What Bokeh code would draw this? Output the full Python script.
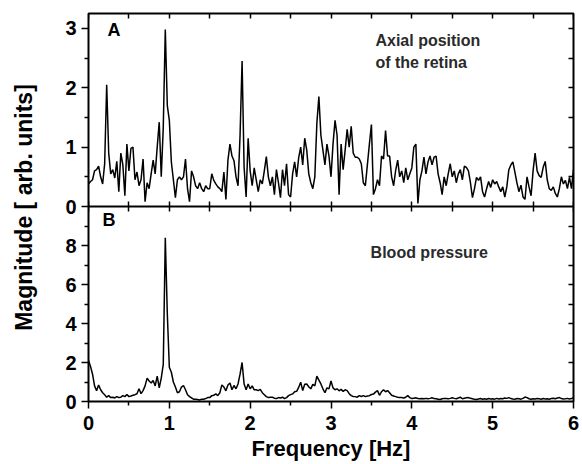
from bokeh.plotting import figure
from bokeh.models import Range1d, LinearAxis, FixedTicker, Span, Label
from bokeh.embed import file_html
from bokeh.resources import INLINE

# ---------------- data ----------------
freq_step = 0.025  # Hz between samples

retina_vals = [
    0.38, 0.42, 0.45, 0.6, 0.62, 0.68, 0.5, 0.38, 0.72, 2.05,
    0.9, 0.55, 0.62, 0.48, 0.76, 0.25, 0.9, 0.7, 0.18, 1.05,
    0.6, 0.98, 1.0, 0.45, 0.58, 0.35, 0.45, 0.8, 0.08, 0.4,
    0.3, 0.55, 0.78, 0.55, 1.0, 1.42, 0.5, 1.33, 2.98, 1.7,
    1.45, 0.75, 0.45, 0.15, 0.45, 0.5, 0.45, 0.5, 0.8, 0.3,
    0.08, 0.6, 0.5, 0.35, 0.3, 0.4, 0.3, 0.25, 0.35, 0.3,
    0.3, 0.55, 0.44, 0.38, 0.33, 0.3, 0.25, 0.58, 0.12, 0.78,
    1.05, 0.85, 0.77, 0.5, 0.35, 1.2, 2.45, 0.66, 0.16, 1.15,
    0.6, 0.35, 0.65, 0.45, 0.25, 0.45, 0.38, 0.6, 0.84, 0.5,
    0.35, 0.5, 0.2, 0.62, 0.4, 0.15, 0.62, 0.35, 0.72, 0.2,
    0.16, 0.55, 0.75, 0.5, 0.82, 1.0, 0.7, 1.15, 0.95, 0.55,
    0.4, 0.3, 0.5, 1.4, 1.85, 1.2, 0.95, 0.7, 1.05, 0.85,
    0.5, 1.05, 1.45, 1.2, 0.2, 1.05, 0.62, 0.95, 1.3, 1.0,
    1.35, 0.9, 0.83, 0.83, 0.8, 0.72, 0.4, 0.35, 0.7, 1.05,
    1.38, 0.2, 0.3, 0.45, 0.35, 0.85, 0.8, 1.28, 0.85, 0.85,
    0.5, 0.35, 0.61, 0.78, 0.5, 0.6, 0.4, 0.65, 0.45, 0.55,
    0.65, 1.0, 1.05, 0.05, 0.45, 0.6, 0.83, 0.55, 0.75, 0.85,
    0.7, 0.83, 0.85, 0.55, 0.4, 0.2, 0.5, 0.35, 0.55, 0.72,
    0.5, 0.6, 0.4, 0.55, 0.62, 0.45, 0.68, 0.66, 0.6, 0.4,
    0.15, 0.3, 0.49, 0.44, 0.5, 0.25, 0.16, 0.3, 0.42, 0.32,
    0.45, 0.38, 0.42, 0.33, 0.25, 0.33, 0.16, 0.33, 0.62, 0.7,
    0.75, 0.58, 0.4, 0.25, 0.36, 0.16, 0.12, 0.5, 0.33, 0.18,
    0.6, 0.9, 0.6, 0.52, 0.49, 0.66, 0.76, 0.45, 0.3, 0.27,
    0.33, 0.22, 0.16, 0.3, 0.5, 0.38, 0.44, 0.3, 0.49, 0.3,
    0.62,
]

pressure_vals = [
    2.1, 1.8, 1.4, 0.8, 0.55, 0.85, 0.6, 0.45, 0.35, 0.22,
    0.3, 0.2, 0.22, 0.18, 0.25, 0.2, 0.22, 0.3, 0.25, 0.36,
    0.25, 0.28, 0.32, 0.35, 0.4, 0.65, 0.4, 0.56, 0.8, 1.2,
    1.05, 0.95, 1.08, 0.8, 1.3, 0.7, 1.2, 1.9, 8.4, 4.5,
    1.76, 1.5, 1.0, 0.74, 0.45, 0.5, 0.74, 0.82, 0.6, 0.35,
    0.25, 0.18, 0.12, 0.12, 0.1, 0.08, 0.12, 0.12, 0.15, 0.2,
    0.2, 0.3, 0.32, 0.39, 0.3, 0.45, 0.85, 0.74, 0.55, 0.85,
    0.95, 0.6, 0.82, 0.65, 0.9, 1.4, 2.0, 0.9, 0.6, 0.9,
    0.65, 0.8, 0.6, 0.6, 0.56, 0.62, 0.45, 0.35, 0.25, 0.2,
    0.22, 0.22, 0.17, 0.15, 0.2, 0.18, 0.22, 0.15, 0.2, 0.3,
    0.35, 0.39, 0.5, 0.52, 0.72, 0.99, 0.56, 0.88, 0.9, 0.75,
    0.65, 0.88, 0.8, 1.3, 1.1, 0.9, 0.65, 0.45, 0.7, 0.65,
    1.05, 0.7, 0.6, 0.65, 0.55, 0.62, 0.52, 0.6, 0.56, 0.4,
    0.3, 0.26, 0.25, 0.22, 0.3, 0.26, 0.3, 0.25, 0.28, 0.3,
    0.36, 0.38, 0.48, 0.56, 0.32, 0.5, 0.6, 0.5, 0.56, 0.45,
    0.32, 0.28, 0.25, 0.22, 0.21, 0.2, 0.18, 0.22, 0.3, 0.2,
    0.15, 0.17, 0.19, 0.15, 0.14, 0.15, 0.14, 0.16, 0.14, 0.16,
    0.19, 0.15, 0.14, 0.12, 0.1, 0.14, 0.16, 0.15, 0.14, 0.16,
    0.19, 0.16, 0.14, 0.18, 0.22, 0.14, 0.17, 0.19, 0.2, 0.17,
    0.14, 0.11, 0.1, 0.13, 0.15, 0.12, 0.14, 0.12, 0.15, 0.13,
    0.14, 0.12, 0.16, 0.13, 0.15, 0.14, 0.18, 0.16, 0.2, 0.15,
    0.13, 0.12, 0.15, 0.14, 0.12, 0.16, 0.23, 0.2, 0.14, 0.12,
    0.14, 0.13, 0.15, 0.14, 0.12, 0.15, 0.13, 0.14, 0.12, 0.15,
    0.17, 0.14, 0.18, 0.2, 0.15, 0.13, 0.14, 0.16, 0.13, 0.15,
    0.2,
]

freq = [round(i * freq_step, 3) for i in range(len(retina_vals))]

x_ticks = [0, 1, 2, 3, 4, 5, 6]
x_minor = [0.5, 1.5, 2.5, 3.5, 4.5, 5.5]
x_inner_ticks = [0.5 * i for i in range(13)]
a_ticks = [0, 1, 2, 3]
a_minor = [0.5, 1.5, 2.5]
a_right_ticks = [0.5, 1.0, 1.5, 2.0, 2.5, 3.0]
b_ticks = [0, 2, 4, 6, 8]
b_minor = [1, 3, 5, 7, 9]
b_right_ticks = [1, 2, 3, 4, 5, 6, 7, 8, 9]

# ---------------- layout ----------------
W, H = 582, 464
BL, BR, BT, BB = 88, 9, 13, 63
FH = H - BT - BB          # frame height
HA = 193                  # panel A height (px)
HB = FH - HA              # panel B height (px)
X_MAX = 6.0
A_MAX = 3.25
B_MAX = 10.0
b_end = B_MAX * FH / HB
a_start = -A_MAX * HB / HA


def a_to_b(v):
    """Position of an A-panel value on the shared (B) vertical scale."""
    return round(B_MAX + v * (HA / A_MAX) / (HB / B_MAX), 4)


FONT = "Liberation Sans"

p = figure(width=W, height=H, x_range=Range1d(0, X_MAX), y_range=Range1d(0, b_end),
           output_backend="svg", toolbar_location=None,
           x_axis_location=None, y_axis_location=None,
           min_border_left=BL, min_border_right=BR, min_border_top=BT,
           min_border_bottom=BB, background_fill_color="white",
           border_fill_color="white")
p.extra_y_ranges = {"A": Range1d(a_start, A_MAX)}
p.xgrid.visible = False
p.ygrid.visible = False
p.outline_line_color = "black"
p.outline_line_width = 2


def style(ax, t_in, t_out, m_in, m_out, labels):
    ax.axis_line_color = None
    ax.major_tick_line_color = "black"
    ax.minor_tick_line_color = "black"
    ax.major_tick_line_width = 1.5
    ax.minor_tick_line_width = 1.5
    ax.major_tick_in = t_in
    ax.major_tick_out = t_out
    ax.minor_tick_in = m_in
    ax.minor_tick_out = m_out
    if labels:
        ax.major_label_text_font = FONT
        ax.major_label_text_font_style = "bold"
        ax.major_label_text_font_size = "20px"
        ax.major_label_text_color = "black"
    else:
        ax.major_label_text_alpha = 0
        ax.major_label_text_font_size = "1px"


# bottom axis with labels
bottom = LinearAxis(ticker=FixedTicker(ticks=x_ticks, minor_ticks=x_minor))
style(bottom, 0, 7, 0, 4, True)
bottom.major_label_standoff = 7
bottom.axis_label = "Frequency [Hz]"
bottom.axis_label_text_font = FONT
bottom.axis_label_text_font_style = "bold"
bottom.axis_label_text_font_size = "22px"
bottom.axis_label_text_color = "black"
bottom.axis_label_standoff = 3
p.add_layout(bottom, "below")

# top axis (inward ticks)
top = LinearAxis(ticker=FixedTicker(ticks=x_inner_ticks), fixed_location=b_end)
style(top, 5, 0, 0, 0, False)
p.add_layout(top, "above")

# boundary between panels: ticks both ways
mid = LinearAxis(ticker=FixedTicker(ticks=x_inner_ticks), fixed_location=B_MAX)
style(mid, 5, 5, 0, 0, False)
p.add_layout(mid, "below")
p.add_layout(Span(location=B_MAX, dimension="width", line_color="black", line_width=2))

# shared left axis: B ticks below, A ticks (converted) above
left_major = b_ticks + [a_to_b(v) for v in a_ticks]
left_minor = b_minor + [a_to_b(v) for v in a_minor]
left_labels = {a_to_b(v): str(v) for v in a_ticks}
left = LinearAxis(ticker=FixedTicker(ticks=left_major, minor_ticks=left_minor))
style(left, 0, 7, 0, 4, True)
left.major_label_overrides = left_labels
left.major_label_standoff = 5
left.axis_label = "Magnitude [ arb. units]"
left.axis_label_text_font = FONT
left.axis_label_text_font_style = "bold"
left.axis_label_text_font_size = "23px"
left.axis_label_text_color = "black"
left.axis_label_standoff = 25
p.add_layout(left, "left")

# right axes (inward ticks)
right_a = LinearAxis(y_range_name="A", ticker=FixedTicker(ticks=a_right_ticks),
                     fixed_location=X_MAX)
style(right_a, 5, 0, 0, 0, False)
p.add_layout(right_a, "right")
right_b = LinearAxis(ticker=FixedTicker(ticks=b_right_ticks), fixed_location=X_MAX)
style(right_b, 5, 0, 0, 0, False)
p.add_layout(right_b, "right")

# traces
p.line(freq, retina_vals, y_range_name="A", line_color="black", line_width=1.5)
p.line(freq, pressure_vals, line_color="black", line_width=1.5)


# texts
def lab(x, y, text, size, rng="default", color="black", **kw):
    p.add_layout(Label(x=x, y=y, text=text, y_range_name=rng, text_font=FONT,
                       text_font_style="bold", text_font_size=size,
                       text_color=color, **kw))


lab(0.235, 2.80, "A", "18px", rng="A")
lab(3.55, 2.66, "Axial position", "16px", rng="A", color="#2a2a2a")
lab(3.55, 2.29, "of the retina", "16px", rng="A", color="#2a2a2a")
lab(0.173, 8.77, "B", "18px")
lab(3.49, 7.23, "Blood pressure", "16px", color="#2a2a2a")

open("out.html", "w").write(file_html(p, INLINE))
